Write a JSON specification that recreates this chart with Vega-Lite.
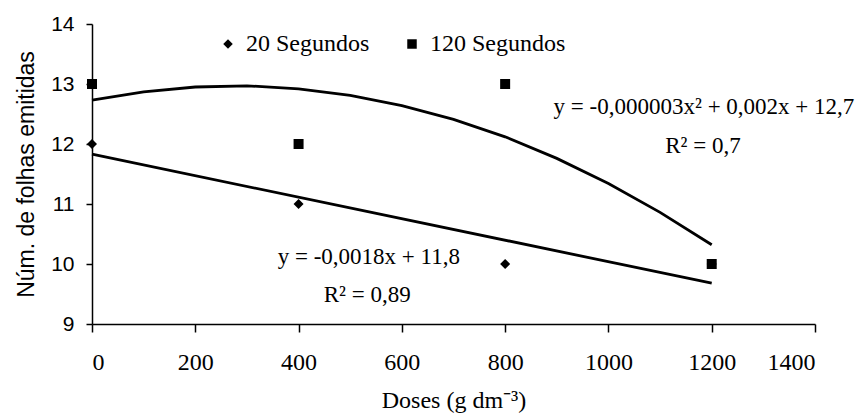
{
  "$schema": "https://vega.github.io/schema/vega-lite/v6.json",
  "width": 723,
  "height": 300,
  "autosize": {"type": "none"},
  "padding": {"left": 92, "top": 24, "right": 44, "bottom": 95},
  "background": "white",
  "config": {
    "view": {"stroke": null},
    "axis": {"grid": false, "domainColor": "black", "tickColor": "black", "domainWidth": 1.5, "tickWidth": 1.5, "labelColor": "black", "titleColor": "black"},
    "legend": {"labelFont": "Liberation Serif", "labelFontSize": 24, "labelColor": "black"}
  },
  "datasets": {
    "tendencias": [
      {"serie": "linear", "dose": 0, "valor": 11.83},
      {"serie": "linear", "dose": 1200, "valor": 9.68},
      {"serie": "quadratica", "dose": 0, "valor": 12.73},
      {"serie": "quadratica", "dose": 100, "valor": 12.87},
      {"serie": "quadratica", "dose": 200, "valor": 12.95},
      {"serie": "quadratica", "dose": 300, "valor": 12.97},
      {"serie": "quadratica", "dose": 400, "valor": 12.92},
      {"serie": "quadratica", "dose": 500, "valor": 12.81},
      {"serie": "quadratica", "dose": 600, "valor": 12.64},
      {"serie": "quadratica", "dose": 700, "valor": 12.41},
      {"serie": "quadratica", "dose": 800, "valor": 12.12},
      {"serie": "quadratica", "dose": 900, "valor": 11.76},
      {"serie": "quadratica", "dose": 1000, "valor": 11.34},
      {"serie": "quadratica", "dose": 1100, "valor": 10.86},
      {"serie": "quadratica", "dose": 1200, "valor": 10.32}
    ],
    "pontos": [
      {"tempo": "20 Segundos", "dose": 0, "valor": 12},
      {"tempo": "20 Segundos", "dose": 400, "valor": 11},
      {"tempo": "20 Segundos", "dose": 800, "valor": 10},
      {"tempo": "20 Segundos", "dose": 1200, "valor": 10},
      {"tempo": "120 Segundos", "dose": 0, "valor": 13},
      {"tempo": "120 Segundos", "dose": 400, "valor": 12},
      {"tempo": "120 Segundos", "dose": 800, "valor": 13},
      {"tempo": "120 Segundos", "dose": 1200, "valor": 10}
    ],
    "rotulos": [
      {"dose": 1185, "valor": 12.62, "texto": "y = -0,000003x² + 0,002x + 12,7"},
      {"dose": 1183, "valor": 11.97, "texto": "R² = 0,7"},
      {"dose": 536, "valor": 10.12, "texto": "y = -0,0018x + 11,8"},
      {"dose": 533, "valor": 9.48, "texto": "R² = 0,89"}
    ]
  },
  "encoding": {
    "x": {
      "field": "dose", "type": "quantitative",
      "scale": {"domain": [0, 1400], "nice": false},
      "axis": {"values": [0, 200, 400, 600, 800, 1000, 1200, 1400], "format": "d", "labelFont": "Liberation Serif", "labelFontSize": 24, "tickSize": 8, "labelPadding": 18, "title": "Doses (g dm⁻³)", "titleFont": "Liberation Serif", "titleFontSize": 24, "titleFontWeight": "normal", "titlePadding": 14}
    },
    "y": {
      "field": "valor", "type": "quantitative",
      "scale": {"domain": [9, 14], "nice": false, "zero": false},
      "axis": {"values": [9, 10, 11, 12, 13, 14], "labelFont": "Liberation Sans", "labelFontSize": 21, "tickSize": 6, "labelPadding": 12, "title": "Núm. de folhas emitidas", "titleFont": "Liberation Sans", "titleFontSize": 23, "titleFontWeight": "normal", "titlePadding": 12}
    }
  },
  "layer": [
    {
      "data": {"name": "tendencias"},
      "mark": {"type": "line", "color": "black", "strokeWidth": 2.8},
      "encoding": {"detail": {"field": "serie"}}
    },
    {
      "data": {"name": "pontos"},
      "mark": {"type": "point", "filled": true, "color": "black", "opacity": 1, "size": 100},
      "encoding": {
        "shape": {
          "field": "tempo", "type": "nominal",
          "scale": {"domain": ["20 Segundos", "120 Segundos"], "range": ["diamond", "square"]},
          "legend": {"orient": "none", "legendX": 124, "legendY": 8, "direction": "horizontal", "title": null, "labelFont": "Liberation Serif", "labelFontSize": 24, "labelColor": "black", "symbolFillColor": "black", "symbolStrokeColor": "black", "symbolSize": 90, "labelOffset": 6, "columnPadding": 30}
        }
      }
    },
    {
      "data": {"name": "rotulos"},
      "mark": {"type": "text", "font": "Liberation Serif", "fontSize": 23, "color": "black", "align": "center", "baseline": "middle"},
      "encoding": {"text": {"field": "texto"}}
    }
  ]
}
